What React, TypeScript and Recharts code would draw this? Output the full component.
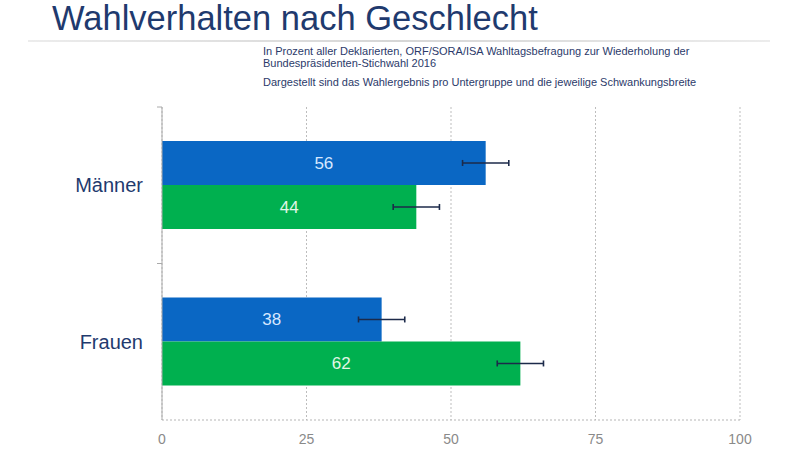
import React from 'react';
import { BarChart, Bar, XAxis, YAxis, CartesianGrid, ErrorBar, LabelList } from 'recharts';

const categories = ['Männer', 'Frauen'];
const seriesBlue = [56, 38];
const seriesGreen = [44, 62];
const errorBlue = [4, 4];
const errorGreen = [4, 4];
const xTicks = [0, 25, 50, 75, 100];

const data = categories.map((name, i) => ({
  name,
  blue: seriesBlue[i],
  green: seriesGreen[i],
  errBlue: errorBlue[i],
  errGreen: errorGreen[i],
}));

const NAVY = '#1f3a6e';
const FONT = 'Liberation Sans, Arial, sans-serif';

const CatTick = (props: any) => {
  const { x, y, payload } = props;
  const off = payload && payload.offset ? payload.offset : 78;
  return (
    <g>
      <text x={x - 19} y={y} dy={7} textAnchor="end" fill={NAVY} fontSize={20} fontFamily={FONT}>
        {payload.value}
      </text>
      <line x1={x - 5} x2={x} y1={y - off} y2={y - off} stroke="#aaaaaa" strokeWidth={1} />
    </g>
  );
};

export default function App() {
  return (
    <div style={{ position: 'absolute', left: 0, top: 0, width: 800, height: 452, background: '#fff', fontFamily: FONT }}>
      <svg width={800} height={100} style={{ position: 'absolute', left: 0, top: 0 }}>
        <defs>
          <linearGradient id="sep" x1="0" x2="1" y1="0" y2="0">
            <stop offset="0" stopColor="#ececec" />
            <stop offset="0.5" stopColor="#d6d6d6" />
            <stop offset="1" stopColor="#ececec" />
          </linearGradient>
        </defs>
        <text x={52} y={30} fontSize={34.5} fill={NAVY} fontFamily={FONT}>
          Wahlverhalten nach Geschlecht
        </text>
        <rect x={28} y={40} width={742} height={2} fill="url(#sep)" />
        <text x={263} y={55} fontSize={11} fill="#2b3a6a" fontFamily={FONT}>
          In Prozent aller Deklarierten, ORF/SORA/ISA Wahltagsbefragung zur Wiederholung der
        </text>
        <text x={263} y={67} fontSize={11} fill="#2b3a6a" fontFamily={FONT}>
          Bundespräsidenten-Stichwahl 2016
        </text>
        <text x={263} y={86} fontSize={11} fill="#2b3a6a" fontFamily={FONT}>
          Dargestellt sind das Wahlergebnis pro Untergruppe und die jeweilige Schwankungsbreite
        </text>
      </svg>
      <div style={{ position: 'absolute', left: 0, top: 0 }}>
        <BarChart
          width={800}
          height={452}
          data={data}
          layout="vertical"
          margin={{ top: 107, right: 60, bottom: 2, left: 20 }}
          barCategoryGap="21.7%"
          barGap={0}
        >
          <CartesianGrid horizontal={false} vertical={true} stroke="#bdbdbd" strokeDasharray="2 2" />
          <XAxis
            type="number"
            domain={[0, 100]}
            ticks={xTicks}
            axisLine={{ stroke: '#b5b5b5', strokeDasharray: '2 2' }}
            tickLine={false}
            tick={{ fill: '#8a8a8a', fontSize: 14, fontFamily: FONT }}
            tickMargin={8}
            height={30}
          />
          <YAxis
            type="category"
            dataKey="name"
            width={142}
            axisLine={{ stroke: '#aaaaaa' }}
            tickLine={false}
            tickSize={0}
            tickMargin={0}
            tick={<CatTick />}
          />
          <Bar dataKey="blue" fill="#0a67c4" isAnimationActive={false}>
            <LabelList dataKey="blue" position="center" fill="#d6e8ff" fontSize={17} fontFamily={FONT} />
            <ErrorBar dataKey="errBlue" direction="x" width={3} stroke="#1c2a4a" strokeWidth={1.6} />
          </Bar>
          <Bar dataKey="green" fill="#00b04f" isAnimationActive={false}>
            <LabelList dataKey="green" position="center" fill="#e2f7e6" fontSize={17} fontFamily={FONT} />
            <ErrorBar dataKey="errGreen" direction="x" width={3} stroke="#1c2a4a" strokeWidth={1.6} />
          </Bar>
        </BarChart>
      </div>
    </div>
  );
}
